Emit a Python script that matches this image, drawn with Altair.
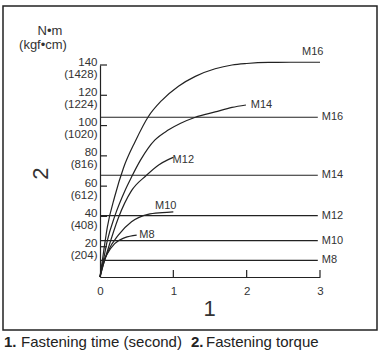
import altair as alt
import pandas as pd

# ---- data ----
series_names = ["M16", "M14", "M12", "M10", "M8"]

m16_t = [0, 0.05, 0.1, 0.2, 0.32, 0.48, 0.66, 0.84, 1.07, 1.3, 1.57, 1.8, 2.0, 2.3, 2.6, 3.0]
m16_v = [0, 17, 33, 53, 72, 89.5, 106, 116.5, 126, 132.5, 137.5, 140, 141, 141.7, 141.8, 141.8]
m14_t = [0, 0.05, 0.1, 0.2, 0.34, 0.43, 0.55, 0.655, 0.75, 0.93, 1.1, 1.3, 1.57, 1.8, 1.99]
m14_v = [0, 12, 24, 40, 57, 66, 77, 85, 90.5, 97, 101.5, 105.5, 109, 112, 113.6]
m12_t = [0, 0.05, 0.1, 0.25, 0.43, 0.63, 0.8, 0.93, 1.0]
m12_v = [0, 9, 17, 39, 57, 67, 74, 77.5, 79]
m10_t = [0, 0.05, 0.11, 0.25, 0.43, 0.655, 0.85, 1.0]
m10_v = [0, 9, 17, 27.7, 36.5, 41.4, 42.5, 43]
m8_t = [0, 0.03, 0.09, 0.2, 0.34, 0.5]
m8_v = [0, 8, 14.5, 22, 26, 27.7]

# horizontal reference torque lines
hline_torque = [105.5, 67.2, 40.5, 24.0, 11.0]
hline_end = [2.97, 2.97, 2.97, 2.97, 2.97]

# curve end labels
label_t = [2.755, 2.056, 0.99, 0.75, 0.536]
label_v = [148.8, 113.6, 77.3, 47.0, 27.7]

y_ticks = [20, 40, 60, 80, 100, 120, 140]
y_kgf = ["(204)", "(408)", "(612)", "(816)", "(1020)", "(1224)", "(1428)"]
x_ticks = [0, 1, 2, 3]

# ---- tables ----
curve_rows = []
for name, ts, vs in zip(series_names, [m16_t, m14_t, m12_t, m10_t, m8_t],
                        [m16_v, m14_v, m12_v, m10_v, m8_v]):
    for t, v in zip(ts, vs):
        curve_rows.append({"series": name, "t": t, "v": v})
curves = pd.DataFrame(curve_rows)
hlines = pd.DataFrame({"series": series_names, "torque": hline_torque,
                       "start": [0] * 5, "end": hline_end})
labels = pd.DataFrame({"series": series_names, "t": label_t, "v": label_v})
yt = pd.DataFrame({"v": y_ticks})
xt = pd.DataFrame({"t": x_ticks[1:]})

label_expr = " : ".join(
    f"datum.value == {v} ? ['{v}', '{k}']" for v, k in zip(y_ticks, y_kgf)
) + " : datum.label"

FONT = "Liberation Sans"
INK = "#222222"
TXT = "#333333"

xs = alt.Scale(domain=[0, 3], nice=False)
ys = alt.Scale(domain=[0, 140], nice=False)

x_axis = alt.Axis(
    values=x_ticks, tickSize=0, labelPadding=8, labelFontSize=11.5,
    labelColor=TXT, domainColor=INK, domainWidth=1.2, grid=False,
    labelFont=FONT, title="1", titleFontSize=22, titleFont=FONT,
    titleFontWeight="normal", titleColor=TXT, titleX=109, titleY=31,
    titleBaseline="middle", titleAlign="center", labelFlush=False)
y_axis = alt.Axis(
    values=y_ticks, tickSize=0, labelPadding=3, labelFontSize=11.5,
    labelColor=TXT, domainColor=INK, domainWidth=1.2, grid=False,
    labelFont=FONT, labelExpr=label_expr, labelLineHeight=12,
    labelBaseline="middle", labelOffset=-3,
    title="2", titleFontSize=22, titleFont=FONT, titleFontWeight="normal",
    titleColor=TXT, titleX=-60, titleY=108, titleAngle=-90,
    titleBaseline="middle", titleAlign="center")

base_curves = alt.Chart(curves).mark_line(
    color=INK, strokeWidth=1.2, interpolate="monotone", clip=False
).encode(
    x=alt.X("t:Q", scale=xs, axis=x_axis),
    y=alt.Y("v:Q", scale=ys, axis=y_axis),
    detail="series:N",
)

rules = alt.Chart(hlines).mark_rule(color=INK, strokeWidth=1.2).encode(
    x=alt.X("start:Q", axis=x_axis), x2="end:Q", y=alt.Y("torque:Q", axis=y_axis)
)
rule_labels = alt.Chart(hlines).mark_text(
    align="left", baseline="middle", dx=4, fontSize=11, font=FONT, color=TXT
).encode(x=alt.X("end:Q", axis=x_axis), y=alt.Y("torque:Q", axis=y_axis), text="series:N")

curve_labels = alt.Chart(labels).mark_text(
    align="left", baseline="middle", fontSize=11, font=FONT, color=TXT, clip=False
).encode(x=alt.X("t:Q", axis=x_axis), y=alt.Y("v:Q", axis=y_axis), text="series:N")

ytick_marks = alt.Chart(yt).mark_rule(color=INK, strokeWidth=1.2).encode(
    y=alt.Y("v:Q", axis=y_axis), x=alt.value(0), x2=alt.value(7)
)
xtick_marks = alt.Chart(xt).mark_rule(color=INK, strokeWidth=1.2).encode(
    x=alt.X("t:Q", axis=x_axis), y=alt.value(212), y2=alt.value(205)
)

unit_top = alt.Chart(pd.DataFrame({"s": ["N•m"]})).mark_text(
    align="center", baseline="middle", fontSize=13, font=FONT, color=TXT
).encode(text="s:N", x=alt.value(-50), y=alt.value(-34))
unit_bot = alt.Chart(pd.DataFrame({"s": ["(kgf•cm)"]})).mark_text(
    align="center", baseline="middle", fontSize=13, font=FONT, color=TXT
).encode(text="s:N", x=alt.value(-57), y=alt.value(-20))

box = alt.Chart(pd.DataFrame({"a": [0]})).mark_rect(
    fill=None, fillOpacity=0, stroke=INK, strokeWidth=1.5
).encode(x=alt.value(-97), x2=alt.value(277), y=alt.value(-59), y2=alt.value(265))

caption_parts = ["1.", "Fastening time (second)", "2.", "Fastening torque"]
caption_bold = [True, False, True, False]
caption_x = [-96, -79, 91, 106]
cap_layers = []
for txt, b, cx in zip(caption_parts, caption_bold, caption_x):
    cap_layers.append(
        alt.Chart(pd.DataFrame({"s": [txt]})).mark_text(
            align="left", baseline="middle", fontSize=15, font=FONT, color=INK,
            fontWeight="bold" if b else "normal"
        ).encode(text="s:N", x=alt.value(cx), y=alt.value(277))
    )

chart = alt.layer(
    base_curves, rules, rule_labels, curve_labels, ytick_marks, xtick_marks,
    unit_top, unit_bot, box, *cap_layers
).properties(
    width=220, height=212,
    padding={"left": 100, "top": 65, "right": 65, "bottom": 79},
    autosize=alt.AutoSizeParams(type="none"),
    background="white",
).configure_view(stroke=None)

chart.save("out.html", embed_options={"renderer": "svg", "actions": False})
